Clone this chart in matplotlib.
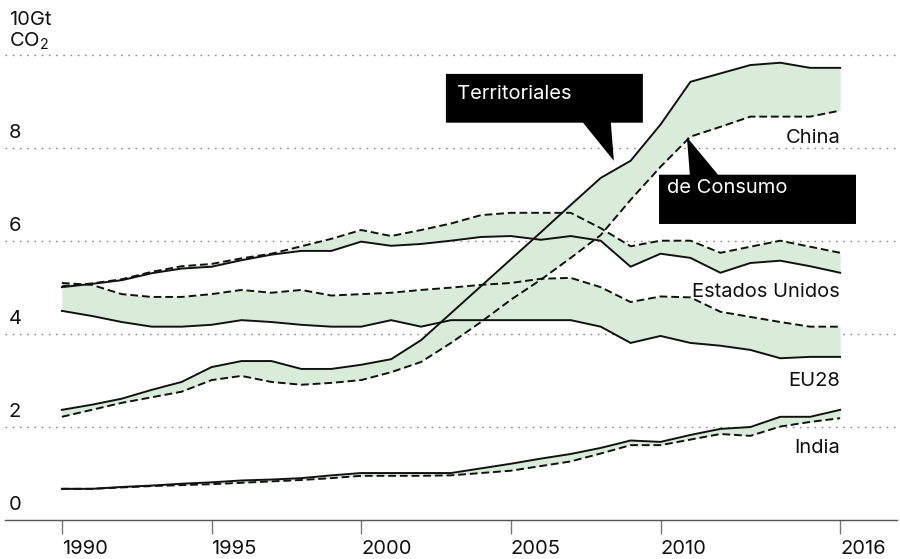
import matplotlib
matplotlib.use("Agg")
import matplotlib.pyplot as plt
from matplotlib.patches import Polygon
from matplotlib.transforms import blended_transform_factory

plt.rcParams['font.family'] = ['Inter', 'DejaVu Sans']
plt.rcParams['font.size'] = 14.5
plt.rcParams['mathtext.default'] = 'regular'

years = list(range(1990, 2017))

china_terr = [2.36, 2.47, 2.60, 2.79, 2.96, 3.28, 3.41, 3.41, 3.24, 3.24, 3.33, 3.45, 3.86,
              4.44, 5.02, 5.60, 6.18, 6.77, 7.35, 7.72, 8.50, 9.42, 9.60, 9.78, 9.83, 9.72, 9.72]
china_cons = [2.21, 2.36, 2.51, 2.63, 2.75, 3.00, 3.09, 2.96, 2.90, 2.94, 3.00, 3.17, 3.39,
              3.80, 4.25, 4.73, 5.16, 5.63, 6.12, 6.88, 7.59, 8.24, 8.45, 8.67, 8.67, 8.67, 8.80]

usa_terr = [5.00, 5.07, 5.15, 5.30, 5.40, 5.44, 5.58, 5.70, 5.78, 5.78, 5.98, 5.89, 5.93,
            6.00, 6.08, 6.10, 6.02, 6.10, 6.00, 5.44, 5.72, 5.63, 5.31, 5.52, 5.57, 5.45, 5.31]
usa_cons = [5.02, 5.08, 5.17, 5.33, 5.45, 5.50, 5.62, 5.72, 5.88, 6.04, 6.23, 6.10, 6.23,
            6.37, 6.55, 6.60, 6.60, 6.60, 6.27, 5.88, 6.00, 6.00, 5.74, 5.87, 6.00, 5.87, 5.74]

eu_terr = [4.49, 4.38, 4.25, 4.15, 4.15, 4.19, 4.29, 4.25, 4.19, 4.15, 4.15, 4.29, 4.15,
           4.29, 4.29, 4.29, 4.29, 4.29, 4.15, 3.80, 3.95, 3.80, 3.74, 3.65, 3.47, 3.50, 3.50]
eu_cons = [5.09, 5.05, 4.85, 4.79, 4.79, 4.85, 4.94, 4.88, 4.94, 4.82, 4.85, 4.88, 4.94,
           4.99, 5.05, 5.09, 5.18, 5.20, 5.00, 4.68, 4.80, 4.78, 4.47, 4.36, 4.25, 4.15, 4.15]

india_terr = [0.66, 0.66, 0.70, 0.73, 0.77, 0.80, 0.84, 0.86, 0.89, 0.95, 1.00, 1.00, 1.00,
              1.00, 1.10, 1.20, 1.31, 1.41, 1.54, 1.70, 1.67, 1.82, 1.95, 1.99, 2.21, 2.21, 2.36]
india_cons = [0.66, 0.66, 0.69, 0.72, 0.74, 0.76, 0.79, 0.82, 0.85, 0.89, 0.94, 0.94, 0.94,
              0.95, 1.00, 1.05, 1.15, 1.25, 1.42, 1.60, 1.60, 1.72, 1.84, 1.80, 2.00, 2.10, 2.18]

countries = ["China", "Estados Unidos", "EU28", "India"]
label_y = [8.1, 4.79, 2.87, 1.43]

y_ticks = [0, 2, 4, 6, 8, 10]
x_ticks = [1990, 1995, 2000, 2005, 2010, 2016]

fill_col = "#d9ebd9"
ink = "#111111"

fig = plt.figure(figsize=(9, 5.59), dpi=100)
ax = fig.add_axes([5 / 900, 39.5 / 559, 892 / 900, 519.5 / 559])
ax.set_xlim(1988.1, 2017.9)
ax.set_ylim(0, 11.18)

for t, c in [(china_terr, china_cons), (usa_terr, usa_cons), (eu_terr, eu_cons), (india_terr, india_cons)]:
    ax.fill_between(years, t, c, color=fill_col, lw=0, zorder=1)
    ax.plot(years, c, color=ink, lw=1.4, ls=(0, (4, 2)), zorder=3)
    ax.plot(years, t, color=ink, lw=1.4, zorder=3)

# grid
for v in y_ticks[1:]:
    ax.axhline(v, color="#888888", lw=1, ls=(0, (1.2, 4)), zorder=0)

# y labels
tr = blended_transform_factory(ax.transAxes, ax.transData)
for v in y_ticks[:-1]:
    ax.annotate(str(v), xy=(4 / 892, v), xycoords=tr, xytext=(0, 7), textcoords="offset points",
                ha="left", va="baseline", color=ink)
ax.annotate("CO$_2$", xy=(4 / 892, 10), xycoords=tr, xytext=(0, 6), textcoords="offset points",
            ha="left", va="baseline", color=ink)
ax.annotate("10Gt", xy=(4 / 892, 10), xycoords=tr, xytext=(0, 21.5), textcoords="offset points",
            ha="left", va="baseline", color=ink)

# country labels
for name, ly in zip(countries, label_y):
    ax.text(years[-1], ly, name, ha="right", va="baseline", color=ink, zorder=4)

# callouts
terr_box = [(2002.83, 9.59), (2009.41, 9.59), (2009.41, 8.54), (2008.34, 8.54),
            (2008.44, 7.72), (2007.41, 8.54), (2002.83, 8.54)]
cons_box = [(2009.95, 7.42), (2010.98, 7.42), (2010.88, 8.23), (2011.92, 7.42),
            (2016.53, 7.42), (2016.53, 6.36), (2009.95, 6.36)]
ax.add_patch(Polygon(terr_box, closed=True, fc="black", ec="none", zorder=5))
ax.add_patch(Polygon(cons_box, closed=True, fc="black", ec="none", zorder=5))
ax.text(2003.2, 9.16, "Territoriales", color="white", ha="left", va="center", zorder=6)
ax.text(2010.21, 7.14, "de Consumo", color="white", ha="left", va="center", zorder=6)

# axes styling
for s in ["top", "left", "right"]:
    ax.spines[s].set_visible(False)
ax.spines["bottom"].set_color("#555555")
ax.spines["bottom"].set_linewidth(1)
ax.set_yticks([])
ax.set_xticks(x_ticks)
ax.set_xticklabels([str(x) for x in x_ticks], ha="left")
ax.tick_params(axis="x", direction="out", length=10, width=1, color="#777777",
               pad=5, labelsize=14.5, labelcolor=ink)

fig.savefig("out.png", dpi=100)
